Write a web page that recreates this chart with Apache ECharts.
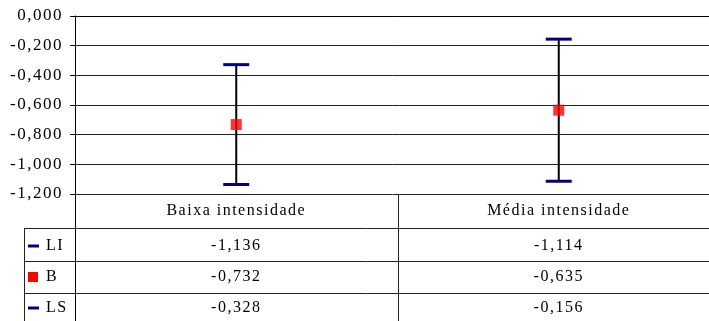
<!DOCTYPE html>
<html>
<head>
<meta charset="utf-8">
<script src="https://cdn.jsdelivr.net/npm/echarts@6/dist/echarts.min.js"></script>
<style>
  html, body { margin: 0; padding: 0; background: #fff; }
  #chart { width: 709px; height: 321px; }
</style>
</head>
<body>
<div id="chart"></div>
<script>
// Interval estimates per intensity level
const categories = ['Baixa intensidade', 'Média intensidade'];
const LI = [-1.136, -1.114];   // lower limit
const B  = [-0.732, -0.635];   // estimate
const LS = [-0.328, -0.156];   // upper limit
const rowNames = ['LI', 'B', 'LS'];

const FONT = "'Liberation Serif', 'Times New Roman', serif";
const NAVY = '#000080';
const RED = '#ff0000';
const fmt = v => v.toFixed(3).replace('.', ',');

// Spread the glyphs a little, like spreadsheet typesetting
const LETTER_SPACING = '1.5px';
(function () {
  const proto = CanvasRenderingContext2D.prototype;
  if (!('letterSpacing' in proto)) return;
  const origFill = proto.fillText;
  proto.fillText = function () {
    this.letterSpacing = LETTER_SPACING;
    return origFill.apply(this, arguments);
  };
})();

const chart = echarts.init(document.getElementById('chart'), null, { renderer: 'canvas' });

const option = {
  animation: false,
  backgroundColor: '#fff',
  textStyle: { fontFamily: FONT },
  grid: { left: 75, top: 16, width: 645, height: 178, containLabel: false, outerBoundsMode: 'none' },
  xAxis: {
    type: 'category',
    data: categories,
    axisLine: { show: true, lineStyle: { color: '#000', width: 1 } },
    axisTick: { show: false },
    axisLabel: { show: false },
    splitLine: { show: false }
  },
  yAxis: {
    type: 'value',
    min: -1.2,
    max: 0,
    interval: 0.2,
    axisLine: { show: true, lineStyle: { color: '#000', width: 1 } },
    axisTick: { show: true, length: 5, lineStyle: { color: '#000' } },
    axisLabel: {
      margin: 12,
      color: '#000',
      fontFamily: FONT,
      fontSize: 17,
      formatter: v => fmt(v)
    },
    splitLine: { show: true, lineStyle: { color: '#222', width: 1 } }
  },
  series: [
    {
      type: 'custom',
      name: 'interval',
      data: categories.map((c, i) => [i, LI[i], LS[i]]),
      encode: { x: 0, y: [1, 2] },
      z: 3,
      renderItem: function (params, api) {
        const lo = api.coord([api.value(0), api.value(1)]);
        const hi = api.coord([api.value(0), api.value(2)]);
        const half = 13;
        return {
          type: 'group',
          children: [
            {
              type: 'line',
              shape: { x1: lo[0], y1: lo[1], x2: hi[0], y2: hi[1] },
              style: { stroke: '#000', lineWidth: 2 }
            },
            {
              type: 'line',
              shape: { x1: lo[0] - half, y1: lo[1], x2: lo[0] + half, y2: lo[1] },
              style: { stroke: NAVY, lineWidth: 3 }
            },
            {
              type: 'line',
              shape: { x1: hi[0] - half, y1: hi[1], x2: hi[0] + half, y2: hi[1] },
              style: { stroke: NAVY, lineWidth: 3 }
            }
          ]
        };
      }
    },
    {
      type: 'scatter',
      name: 'B',
      data: categories.map((c, i) => [i, B[i]]),
      symbol: 'rect',
      symbolSize: 11,
      itemStyle: { color: RED },
      z: 4
    }
  ]
};

chart.setOption(option);

// Data table below the plot
const W = 709, H = 321;
const xs = categories.map((c, i) => chart.convertToPixel({ xAxisIndex: 0 }, i));
const step = xs[1] - xs[0];
const axisX = Math.round(xs[0] - step / 2) + 0.5;
const midX = Math.round((xs[0] + xs[1]) / 2) + 0.5;
const tableTop = chart.convertToPixel({ yAxisIndex: 0 }, -1.2);
const headerY = 211;
const rowLines = [228, 261, 293];
const rowY = [246, 277, 308];
const legendLeft = 24;

const lineStyle = { stroke: '#222', lineWidth: 1 };
const els = [];
rowLines.forEach(y => {
  els.push({ type: 'line', shape: { x1: legendLeft, y1: y + 0.5, x2: W, y2: y + 0.5 }, style: lineStyle, silent: true });
});
els.push({ type: 'line', shape: { x1: legendLeft + 0.5, y1: rowLines[0], x2: legendLeft + 0.5, y2: H }, style: lineStyle });
els.push({ type: 'line', shape: { x1: axisX, y1: tableTop, x2: axisX, y2: H }, style: { stroke: '#000', lineWidth: 1 } });
els.push({ type: 'line', shape: { x1: midX, y1: tableTop, x2: midX, y2: H }, style: lineStyle });

const textStyle = (x, y, str, align) => ({
  type: 'text',
  x: x, y: y,
  style: {
    text: str, fill: '#000', fontSize: 16, fontFamily: FONT,
    align: align || 'center', verticalAlign: 'middle'
  }
});

categories.forEach((c, i) => els.push(textStyle(xs[i], headerY, c)));
const rows = [LI, B, LS];
rows.forEach((arr, r) => {
  arr.forEach((v, i) => els.push(textStyle(xs[i], rowY[r], fmt(v))));
  els.push(textStyle(46, rowY[r], rowNames[r], 'left'));
});

// Legend keys
els.push({ type: 'rect', shape: { x: 28, y: rowY[0] - 1.5, width: 11, height: 3 }, style: { fill: NAVY } });
els.push({ type: 'rect', shape: { x: 28, y: rowY[1] - 5, width: 10, height: 10 }, style: { fill: RED } });
els.push({ type: 'rect', shape: { x: 28, y: rowY[2] - 1.5, width: 11, height: 3 }, style: { fill: NAVY } });

chart.setOption({ graphic: { elements: els } });
</script>
</body>
</html>
